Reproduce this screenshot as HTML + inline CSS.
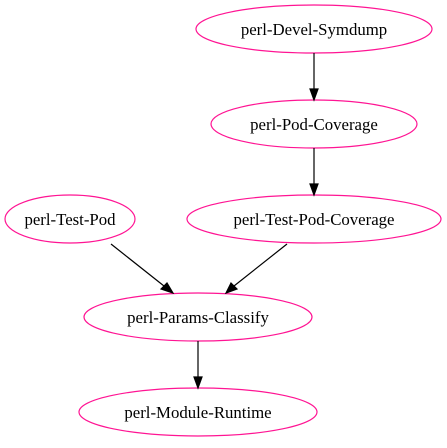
<!DOCTYPE html>
<html><head><meta charset="utf-8"><style>body{margin:0;background:#fff}</style></head>
<body>
<svg width="447" height="443" xmlns="http://www.w3.org/2000/svg" font-family="Liberation Serif, serif" font-size="16.8">
<g fill="none" stroke="#ff1493" stroke-width="1.2">
<ellipse cx="314" cy="29" rx="118" ry="24"/>
<ellipse cx="314" cy="124" rx="103" ry="24"/>
<ellipse cx="70" cy="219" rx="65" ry="24"/>
<ellipse cx="314" cy="219" rx="127" ry="24"/>
<ellipse cx="198" cy="317" rx="114" ry="24"/>
<ellipse cx="198" cy="412" rx="119" ry="24"/>
</g>
<g stroke="#000" stroke-width="1.2" fill="#000">
<line x1="314" y1="53" x2="314" y2="90"/><polygon points="310,89 318,89 314,100"/>
<line x1="314" y1="148" x2="314" y2="185"/><polygon points="310,184 318,184 314,195"/>
<line x1="111" y1="244" x2="164" y2="286"/><polygon points="161,289 167,283 173,293"/>
<line x1="287" y1="244" x2="234" y2="286"/><polygon points="231,283 237,289 226,293"/>
<line x1="198" y1="341" x2="198" y2="377"/><polygon points="194,377 202,377 198,388"/>
</g>
<g text-anchor="middle" fill="#000">
<text x="314" y="35">perl-Devel-Symdump</text>
<text x="314" y="130">perl-Pod-Coverage</text>
<text x="70" y="225">perl-Test-Pod</text>
<text x="314" y="225">perl-Test-Pod-Coverage</text>
<text x="198" y="323">perl-Params-Classify</text>
<text x="198" y="418">perl-Module-Runtime</text>
</g>
</svg>
</body></html>
